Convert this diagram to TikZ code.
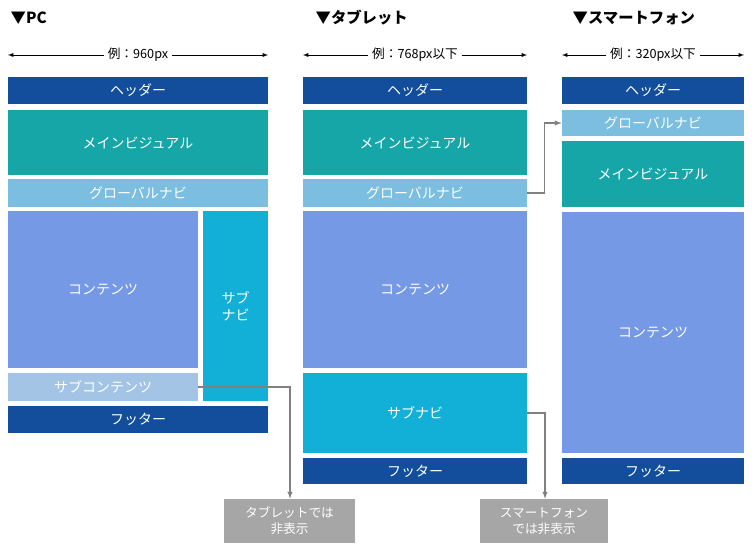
\documentclass[tikz,border=0pt]{standalone}
\usepackage{fontspec}
\setmainfont{Noto Sans CJK JP}
\usetikzlibrary{calc}

\definecolor{hdrblue}{HTML}{124E9B}
\definecolor{mvteal}{HTML}{17A6A8}
\definecolor{gnavblue}{HTML}{7BBEDF}
\definecolor{cntblue}{HTML}{7699E6}
\definecolor{snavblue}{HTML}{12AFD6}
\definecolor{scntblue}{HTML}{A4C4E6}
\definecolor{notegray}{HTML}{A6A6A6}

\tikzset{
  blk/.style={inner sep=0pt, text=white, font=\fontsize{10.5}{13}\selectfont, align=center},
  hdr/.style={blk, fill=hdrblue},
  mv/.style={blk, fill=mvteal},
  gnav/.style={blk, fill=gnavblue},
  cnt/.style={blk, fill=cntblue},
  snav/.style={blk, fill=snavblue},
  scnt/.style={blk, fill=scntblue},
  note/.style={blk, fill=notegray, font=\fontsize{9.5}{12}\selectfont},
  title/.style={anchor=west, font=\bfseries\fontsize{11.5}{14}\selectfont},
  wlabel/.style={fill=white, inner sep=3pt, font=\fontsize{9.5}{12}\selectfont},
  link/.style={draw=gray, thick, -latex},
}

% \blk{style}{name}{x1}{y1}{x2}{y2}{text}
\newcommand{\blkbox}[7]{%
  \node[#1, minimum width={(#5-#3)*0.75pt}, minimum height={(#6-#4)*0.75pt}]
    (#2) at ({(#3+#5)/2},{(#4+#6)/2}) {#7};}

\begin{document}
\begin{tikzpicture}[x=0.75pt, y=-0.75pt]
  \useasboundingbox (0,0) rectangle (752,553);

  % titles
  \node[title] (tpc) at (6,18) {▼PC};
  \node[title] (ttab) at (311,18) {▼タブレット};
  \node[title] (tsp) at (568,18) {▼スマートフォン};

  % widths
  \coordinate (wpcl) at (8,55); \coordinate (wpcr) at (268,55);
  \draw[-latex] ($(wpcl)!.5!(wpcr)$) -- (wpcl);
  \draw[-latex] ($(wpcl)!.5!(wpcr)$) -- (wpcr);
  \node[wlabel] (wpc) at ($(wpcl)!.5!(wpcr)$) {例：960px};
  \coordinate (wtabl) at (303,55); \coordinate (wtabr) at (527,55);
  \draw[-latex] ($(wtabl)!.5!(wtabr)$) -- (wtabl);
  \draw[-latex] ($(wtabl)!.5!(wtabr)$) -- (wtabr);
  \node[wlabel] (wtab) at ($(wtabl)!.5!(wtabr)$) {例：768px以下};
  \coordinate (wspl) at (562,55); \coordinate (wspr) at (744,55);
  \draw[-latex] ($(wspl)!.5!(wspr)$) -- (wspl);
  \draw[-latex] ($(wspl)!.5!(wspr)$) -- (wspr);
  \node[wlabel] (wsp) at ($(wspl)!.5!(wspr)$) {例：320px以下};

  % PC
  \blkbox{hdr}{pchdr}{8}{77}{268}{104}{ヘッダー}
  \blkbox{mv}{pcmv}{8}{110}{268}{175}{メインビジュアル}
  \blkbox{gnav}{pcgnav}{8}{179}{268}{207}{グローバルナビ}
  \blkbox{cnt}{pccnt}{8}{211}{198}{368}{コンテンツ}
  \blkbox{snav}{pcsnav}{203}{211}{268}{401}{サブ\\ナビ}
  \blkbox{scnt}{pcscnt}{8}{373}{198}{401}{サブコンテンツ}
  \blkbox{hdr}{pcftr}{8}{406}{268}{433}{フッター}

  % tablet
  \blkbox{hdr}{tabhdr}{303}{77}{527}{104}{ヘッダー}
  \blkbox{mv}{tabmv}{303}{110}{527}{175}{メインビジュアル}
  \blkbox{gnav}{tabgnav}{303}{179}{527}{207}{グローバルナビ}
  \blkbox{cnt}{tabcnt}{303}{211}{527}{368}{コンテンツ}
  \blkbox{snav}{tabsnav}{303}{373}{527}{453}{サブナビ}
  \blkbox{hdr}{tabftr}{303}{458}{527}{484}{フッター}

  % smartphone
  \blkbox{hdr}{sphdr}{562}{77}{744}{104}{ヘッダー}
  \blkbox{gnav}{spgnav}{562}{110}{744}{136}{グローバルナビ}
  \blkbox{mv}{spmv}{562}{141}{744}{207}{メインビジュアル}
  \blkbox{cnt}{spcnt}{562}{212}{744}{453}{コンテンツ}
  \blkbox{hdr}{spftr}{562}{458}{744}{484}{フッター}

  % notes
  \blkbox{note}{hidetab}{224}{499}{355}{543}{タブレットでは\\非表示}
  \blkbox{note}{hidesp}{480}{499}{608}{543}{スマートフォン\\では非表示}

  \draw[link] (pcscnt.east) -| (hidetab.north -| 290,0);
  \draw[link] (tabsnav.east) -| (hidesp.north -| 545,0);
  \draw[link] (tabgnav.east) -- ++(17,0) |- (spgnav.west);
\end{tikzpicture}
\end{document}
